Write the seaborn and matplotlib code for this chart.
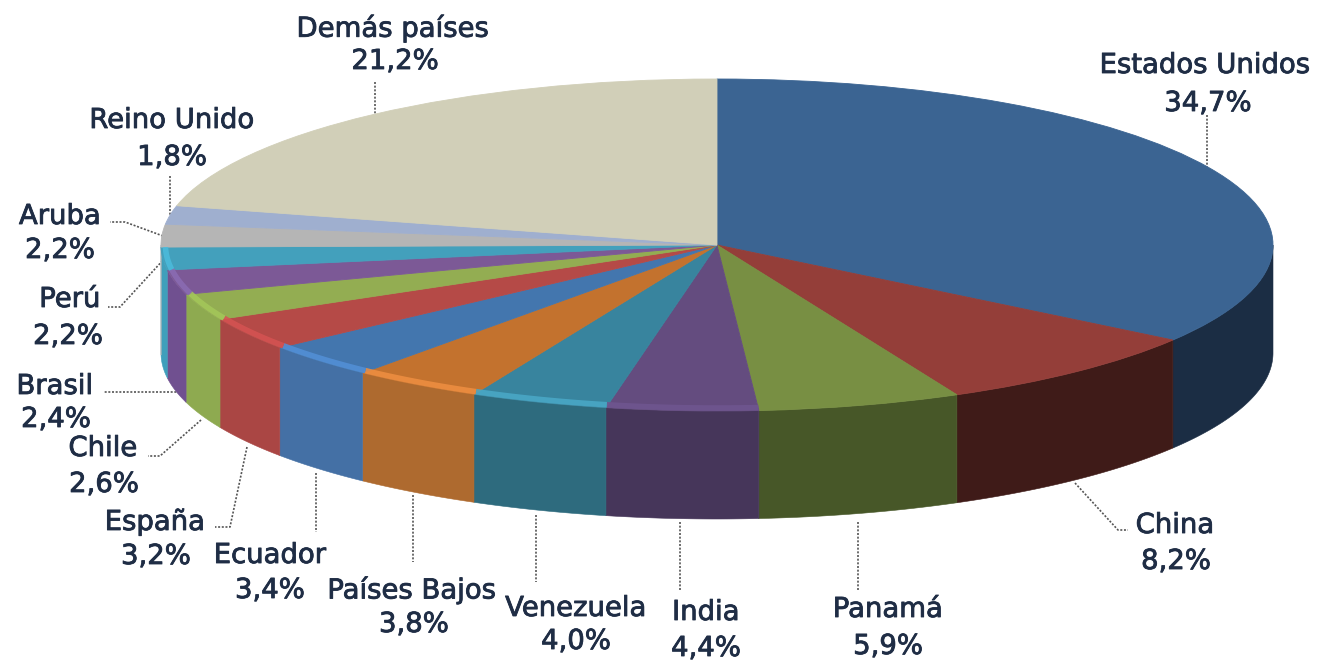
import numpy as np
import matplotlib
matplotlib.use("Agg")
import matplotlib.pyplot as plt
import matplotlib.patheffects as pe
import seaborn as sns

# Data
paises = ["Estados Unidos", "China", "Panamá", "India", "Venezuela", "Países Bajos", "Ecuador",
          "España", "Chile", "Brasil", "Perú", "Aruba", "Reino Unido", "Demás países"]
valores = [34.7, 8.2, 5.9, 4.4, 4.0, 3.8, 3.4, 3.2, 2.6, 2.4, 2.2, 2.2, 1.8, 21.2]
etiquetas_pct = ["34,7%", "8,2%", "5,9%", "4,4%", "4,0%", "3,8%", "3,4%",
                 "3,2%", "2,6%", "2,4%", "2,2%", "2,2%", "1,8%", "21,2%"]

# Styles
color_sup = ["#3b6492", "#943e39", "#788f43", "#644c7f", "#38849e", "#c3722e", "#4376ae",
             "#b54a47", "#93ad52", "#7c5996", "#43a0bc", "#b5b5b5", "#9fafcf", "#d1cfb8"]
color_lat = ["#1b2d44", "#3f1b18", "#475728", "#46365a", "#2e6b7e", "#ae6a2f", "#4470a5",
             "#aa4644", "#8eaa50", "#705090", "#3f9fbb", "#b5b5b5", "#9fafcf", "#d1cfb8"]
color_borde = [None, None, None, "#6f5690", "#4aa9c8", "#ef8f42", "#5390d8",
               "#d65352", "#a4c75a", "#8b6cb4", "#4cbcdc", None, None, None]

# Layout (pixels of the 1318x661 canvas)
W, H = 1318, 661
CX, CY, RX, RY, PROF = 717, 245, 556, 166, 108

pos_nombre = [(1205, 65), (1175, 525), (888, 609), (706, 612), (576, 608), (412, 590), (270, 555),
              (155, 522), (103, 448), (55, 386), (70, 299), (60, 216), (172, 120), (393, 28)]
pos_pct = [(1208, 103), (1176, 561), (888, 646), (706, 648), (576, 641), (414, 624), (270, 590),
           (156, 556), (104, 484), (56, 419), (68, 336), (60, 250), (172, 157), (395, 61)]
guias = [[(1207, 115), (1207, 170)],
         [(1075, 483), (1118, 530), (1128, 530)],
         [(858, 522), (858, 590)],
         [(680, 522), (680, 590)],
         [(536, 515), (536, 582)],
         [(413, 495), (413, 562)],
         [(316, 473), (316, 532)],
         [(247, 447), (230, 527), (215, 527)],
         [(201, 420), (160, 456), (148, 456)],
         [(180, 392), (103, 392)],
         [(165, 258), (120, 307), (108, 307)],
         [(163, 236), (125, 222), (110, 222)],
         [(170, 176), (170, 215)],
         [(375, 82), (375, 118)]]

sns.set_theme(style="white")
plt.rcParams["font.family"] = ["DejaVu Sans"]

fig = plt.figure(figsize=(W / 100, H / 100), dpi=100, facecolor="white")
ax = fig.add_axes([0, 0, 1, 1])

paleta = sns.color_palette(color_sup)
wedges, _ = ax.pie(valores, colors=paleta, startangle=90, counterclock=False, radius=1,
                   wedgeprops=dict(linewidth=0.6))
for w, c in zip(wedges, paleta):
    w.set_edgecolor(c)
    w.set_zorder(5)

# ax.pie forces a round pie: stretch the unit circle to the tilted ellipse
ax.set_aspect("auto")
ax.set_xlim(-CX / RX, (W - CX) / RX)
ax.set_ylim((CY - H) / RY, CY / RY)
ax.set_axis_off()


def px(x, y):
    return (x - CX) / RX, (CY - y) / RY


prof = PROF / RY
for w, lat, borde in zip(wedges, color_lat, color_borde):
    a, b = w.theta1, w.theta2
    # slice angles may lie in (-180, 0) or (180, 360); the front of the pie is both
    for lo, hi in ((-180, 0), (180, 360)):
        a2, b2 = max(a, lo), min(b, hi)
        if b2 <= a2:
            continue
        t = np.radians(np.linspace(a2, b2, 80))
        xs, ys = np.cos(t), np.sin(t)
        ax.fill(np.r_[xs, xs[::-1]], np.r_[ys, ys[::-1] - prof],
                color=lat, linewidth=0.4, zorder=2)
        if borde:
            ax.plot(xs * 0.992, ys * 0.982, color=borde, lw=4.0, alpha=0.85,
                    solid_capstyle="butt", zorder=6)

# Labels and leader lines
for nombre, pct, pn, pp, guia in zip(paises, etiquetas_pct, pos_nombre, pos_pct, guias):
    for texto, p in ((nombre, pn), (pct, pp)):
        ax.text(*px(*p), texto, ha="center", va="center", fontsize=19.8,
                color="#1f2d45", zorder=10,
                path_effects=[pe.withStroke(linewidth=0.6, foreground="#1f2d45")])
    g = np.array([px(*p) for p in guia])
    ax.plot(g[:, 0], g[:, 1], color="#555555", lw=1.2, ls=(0, (1.2, 1.0)), zorder=1)

fig.savefig("out.png", dpi=100, facecolor="white")
